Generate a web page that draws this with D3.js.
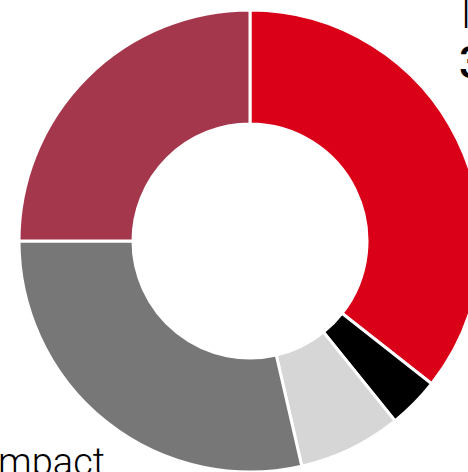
<!DOCTYPE html>
<html>
<head>
<meta charset="utf-8">
<script src="https://cdn.jsdelivr.net/npm/d3@7/dist/d3.min.js"></script>
<style>
  html, body { margin: 0; padding: 0; background: #fff; overflow: hidden; }
  svg { display: block; }
  text { font-family: Roboto, "Liberation Sans", sans-serif; fill: #000; }
</style>
</head>
<body>
<svg id="chart" width="468" height="472"></svg>
<script>
// Share of each impact category (percent), clockwise from 12 o'clock
const categories = ["Indirect impact", "Minor impact", "Other", "Low impact", "Direct impact"];
const shares = [35.6, 3.6, 7.2, 28.6, 25.0];
const colors = ["#da0017", "#000000", "#d6d6d6", "#777777", "#a5374d"];

const width = 468, height = 472;
const cx = 250, cy = 241;
const outerR = 231, innerR = 117;

const svg = d3.select("#chart");

const pie = d3.pie().sort(null).value(d => d.value);
const arc = d3.arc().innerRadius(innerR).outerRadius(outerR);

const data = categories.map((c, i) => ({ name: c, value: shares[i], color: colors[i] }));

const g = svg.append("g").attr("transform", `translate(${cx},${cy})`);

g.selectAll("path")
  .data(pie(data))
  .join("path")
  .attr("d", arc)
  .attr("fill", d => d.data.color)
  .attr("stroke", "#fff")
  .attr("stroke-width", 3)
  .attr("stroke-linejoin", "miter");

// Label of the first slice, placed to the right of the ring
const fmt = d3.format(".1f");
svg.append("text")
  .attr("x", 461).attr("y", 28)
  .attr("font-size", 38).attr("font-weight", 300)
  .text(data[0].name);
svg.append("text")
  .attr("x", 459).attr("y", 78)
  .attr("font-size", 44).attr("font-weight", 500)
  .text(fmt(data[0].value) + "%");

// Label of the fourth slice, below-left of the ring
svg.append("text")
  .attr("x", 105).attr("y", 475)
  .attr("text-anchor", "end")
  .attr("font-size", 38).attr("font-weight", 300)
  .text(data[3].name);
</script>
</body>
</html>
